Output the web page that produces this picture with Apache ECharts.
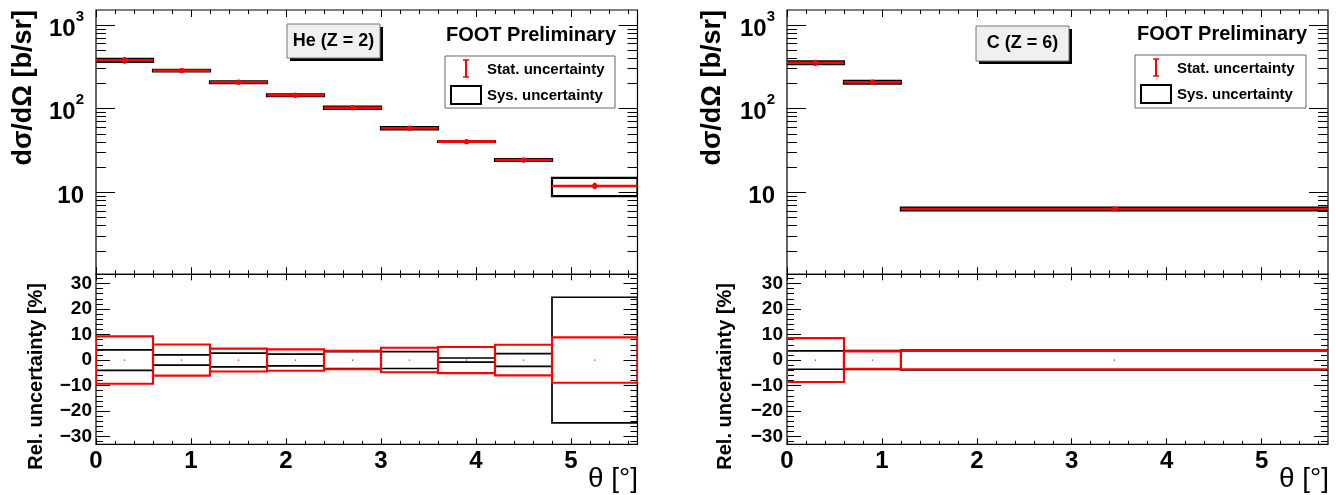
<!DOCTYPE html>
<html>
<head>
<meta charset="utf-8">
<script src="https://cdn.jsdelivr.net/npm/echarts@6/dist/echarts.min.js"></script>
<style>
html,body{margin:0;padding:0;background:#fff;}
#chart{width:1336px;height:495px;}
</style>
</head>
<body>
<div id="chart"></div>
<script>
// ---------------- data ----------------
const heBinLow  = [0.0, 0.6, 1.2, 1.8, 2.4, 3.0, 3.6, 4.2, 4.8];
const heBinHigh = [0.6, 1.2, 1.8, 2.4, 3.0, 3.6, 4.2, 4.8, 5.7];
const heXsec    = [378, 285, 207, 144.5, 102.6, 58.2, 40.3, 24.3, 11.9];   // b/sr
const heStatPct = [9.3, 6.1, 4.5, 4.2, 3.6, 4.8, 5.1, 6.0, 8.9];        // %
const heSysPct  = [4.0, 2.0, 2.7, 2.3, 3.3, 3.3, 0.8, 2.5, 24.6];       // %

const cBinLow   = [0.0, 0.6, 1.2];
const cBinHigh  = [0.6, 1.2, 5.7];
const cXsec     = [354, 207, 6.31];
const cStatPct  = [8.6, 3.4, 3.6];
const cSysPct   = [3.6, 3.7, 3.9];

const thetaMajor = [0, 1, 2, 3, 4, 5];
const thetaMinor = [0.2, 0.4, 0.6, 0.8, 1.2, 1.4, 1.6, 1.8, 2.2, 2.4, 2.6, 2.8,
                    3.2, 3.4, 3.6, 3.8, 4.2, 4.4, 4.6, 4.8, 5.2, 5.4, 5.6];
const xsecMajor  = [10, 100, 1000];
const xsecMinor  = [2, 3, 4, 5, 6, 7, 8, 9, 20, 30, 40, 50, 60, 70, 80, 90,
                    200, 300, 400, 500, 600, 700, 800, 900];
const relMajor   = [-30, -20, -10, 0, 10, 20, 30];
const relMinor   = [-32, -28, -26, -24, -22, -18, -16, -14, -12, -8, -6, -4, -2,
                    2, 4, 6, 8, 12, 14, 16, 18, 22, 24, 26, 28, 32];

const thetaRange = [0, 5.7];
const xsecRange  = [1.046, 1510];
const relRange   = [-33, 33.6];

// ---------------- layout helpers ----------------
const FONT = 'Liberation Sans';
const grids = [
  {left: 96,  top: 10,    width: 541.5, height: 264.3},
  {left: 96,  top: 274.3, width: 541.5, height: 170},
  {left: 787, top: 10,    width: 541,   height: 264.3},
  {left: 787, top: 274.3, width: 541,   height: 170}
].map(g => Object.assign(g, {show: true, borderColor: '#000', borderWidth: 1.2,
                              backgroundColor: 'transparent', outerBoundsMode: 'none'}));

const xAxes = [], yAxes = [];
function tickAxis(base, vals, len, labels) {
  return Object.assign({
    axisLine: {show: false, onZero: false},
    axisTick: {show: true, inside: true, length: len, customValues: vals,
               lineStyle: {color: '#000', width: 1}},
    axisLabel: labels ? labels : {show: false},
    splitLine: {show: false},
    minorTick: {show: false}
  }, base);
}
function buildAxes(gi, isTop) {
  const xMajLen = isTop ? 7 : 6, xMinLen = isTop ? 4 : 3.5;
  const xLbl = isTop ? null : {
    show: true, customValues: thetaMajor, margin: 5,
    fontFamily: FONT, fontWeight: 'bold', fontSize: 24, color: '#000'
  };
  const xBase = {type: 'value', gridIndex: gi, min: thetaRange[0], max: thetaRange[1]};
  const xi = xAxes.length;
  xAxes.push(tickAxis(Object.assign({position: 'bottom'}, xBase), thetaMajor, xMajLen, xLbl));
  xAxes.push(tickAxis(Object.assign({position: 'bottom'}, xBase), thetaMinor, xMinLen));
  xAxes.push(tickAxis(Object.assign({position: 'top'}, xBase), thetaMajor, xMajLen));
  xAxes.push(tickAxis(Object.assign({position: 'top'}, xBase), thetaMinor, xMinLen));

  const yi = yAxes.length;
  if (isTop) {
    const yBase = {type: 'log', logBase: 10, gridIndex: gi, min: xsecRange[0], max: xsecRange[1]};
    const yLbl = {
      show: true, customValues: xsecMajor, margin: 12,
      formatter: v => {
        const e = Math.round(Math.log10(v));
        return e === 1 ? '{b|10}' : '{b|10}{s|' + e + '}';
      },
      rich: {
        b: {fontFamily: FONT, fontWeight: 'bold', fontSize: 24, color: '#000', padding: [8, 0, 0, 0]},
        s: {fontFamily: FONT, fontWeight: 'bold', fontSize: 15, color: '#000', verticalAlign: 'top'}
      }
    };
    yAxes.push(tickAxis(Object.assign({position: 'left'}, yBase), xsecMajor, 19, yLbl));
    yAxes.push(tickAxis(Object.assign({position: 'left'}, yBase), xsecMinor, 10));
    yAxes.push(tickAxis(Object.assign({position: 'right'}, yBase), xsecMajor, 19));
    yAxes.push(tickAxis(Object.assign({position: 'right'}, yBase), xsecMinor, 10));
  } else {
    const yBase = {type: 'value', gridIndex: gi, min: relRange[0], max: relRange[1]};
    const yLbl = {
      show: true, customValues: relMajor, margin: 4,
      formatter: v => (v < 0 ? '\u2212' + Math.abs(v) : String(v)),
      fontFamily: FONT, fontWeight: 'bold', fontSize: 19, color: '#000'
    };
    yAxes.push(tickAxis(Object.assign({position: 'left'}, yBase), relMajor, 14, yLbl));
    yAxes.push(tickAxis(Object.assign({position: 'left'}, yBase), relMinor, 7));
    yAxes.push(tickAxis(Object.assign({position: 'right'}, yBase), relMajor, 14));
    yAxes.push(tickAxis(Object.assign({position: 'right'}, yBase), relMinor, 7));
  }
  return {xi, yi};
}

const axHeTop = buildAxes(0, true);
const axHeBot = buildAxes(1, false);
const axCTop  = buildAxes(2, true);
const axCBot  = buildAxes(3, false);

function rows(lo, hi, val, st, sy) {
  return lo.map((l, i) => [l, hi[i], val[i], st[i], sy[i]]);
}

function renderTop(params, api) {
  const xlo = api.value(0), xhi = api.value(1), v = api.value(2);
  const st = api.value(3) / 100, sy = api.value(4) / 100;
  const xc = (xlo + xhi) / 2;
  const a = api.coord([xlo, v * (1 + sy)]), b = api.coord([xhi, v * (1 - sy)]);
  const pl = api.coord([xlo, v]), pr = api.coord([xhi, v]);
  const s1 = api.coord([xc, v * (1 + st)]), s2 = api.coord([xc, v * (1 - st)]);
  const c = api.coord([xc, v]);
  return {type: 'group', children: [
    {type: 'rect', shape: {x: a[0], y: a[1], width: b[0] - a[0], height: b[1] - a[1]},
     style: {fill: 'none', stroke: '#000', lineWidth: 2.2}},
    {type: 'line', shape: {x1: pl[0], y1: pl[1], x2: pr[0], y2: pr[1]},
     style: {stroke: '#ff0000', lineWidth: 2.6}},
    {type: 'line', shape: {x1: s1[0], y1: s1[1], x2: s2[0], y2: s2[1]},
     style: {stroke: '#ff0000', lineWidth: 2.8}},
    {type: 'circle', shape: {cx: c[0], cy: c[1], r: 2.7}, style: {fill: '#ff0000'}}
  ]};
}
function renderBot(params, api) {
  const xlo = api.value(0), xhi = api.value(1);
  const st = api.value(3), sy = api.value(4);
  const xc = (xlo + xhi) / 2;
  const a = api.coord([xlo, sy]), b = api.coord([xhi, -sy]);
  const c1 = api.coord([xlo, st]), c2 = api.coord([xhi, -st]);
  const c = api.coord([xc, 0]);
  return {type: 'group', children: [
    {type: 'rect', shape: {x: a[0], y: a[1], width: b[0] - a[0], height: b[1] - a[1]},
     style: {fill: 'none', stroke: '#000', lineWidth: 1.7}},
    {type: 'rect', shape: {x: c1[0], y: c1[1], width: c2[0] - c1[0], height: c2[1] - c1[1]},
     style: {fill: 'none', stroke: '#ff0000', lineWidth: 2.1}},
    {type: 'rect', shape: {x: c[0] - 0.6, y: c[1] - 0.6, width: 1.2, height: 1.2},
     style: {fill: '#cc2222'}}
  ]};
}
function customSeries(ax, data, fn, yDim) {
  return {type: 'custom', xAxisIndex: ax.xi, yAxisIndex: ax.yi, renderItem: fn,
          data: data, encode: {x: [0, 1], y: yDim}, silent: true, animation: false, clip: true};
}

// ---------------- annotations ----------------
function labelBox(x, y, w, h, text) {
  return [
    {type: 'rect', shape: {x: x + 3, y: y + 3, width: w, height: h}, style: {fill: '#000'}},
    {type: 'rect', shape: {x: x, y: y, width: w, height: h},
     style: {fill: '#f0f0f0', stroke: '#777', lineWidth: 1}},
    {type: 'text', x: x + w / 2, y: y + h / 2,
     style: {text: text, fill: '#000', font: 'bold 18px "Liberation Sans"',
             textAlign: 'center', textVerticalAlign: 'middle'}}
  ];
}
function legendBlock(x0, y0, w, h) {
  const ix = x0 + 21;
  return [
    {type: 'text', x: x0 + w + 1, y: y0 - 21,
     style: {text: 'FOOT Preliminary', fill: '#000', font: 'bold 20px "Liberation Sans"',
             textAlign: 'right', textVerticalAlign: 'middle'}},
    {type: 'rect', shape: {x: x0, y: y0, width: w, height: h},
     style: {fill: '#fff', stroke: '#666', lineWidth: 1}},
    {type: 'line', shape: {x1: ix, y1: y0 + 4, x2: ix, y2: y0 + 21}, style: {stroke: '#ff0000', lineWidth: 2}},
    {type: 'line', shape: {x1: ix - 3, y1: y0 + 4, x2: ix + 3, y2: y0 + 4}, style: {stroke: '#ff0000', lineWidth: 1.5}},
    {type: 'line', shape: {x1: ix - 3, y1: y0 + 21, x2: ix + 3, y2: y0 + 21}, style: {stroke: '#ff0000', lineWidth: 1.5}},
    {type: 'text', x: x0 + 42, y: y0 + 14,
     style: {text: 'Stat. uncertainty', fill: '#000', font: 'bold 15px "Liberation Sans"',
             textAlign: 'left', textVerticalAlign: 'middle'}},
    {type: 'rect', shape: {x: x0 + 6, y: y0 + 30, width: 30, height: 18},
     style: {fill: 'none', stroke: '#000', lineWidth: 2}},
    {type: 'text', x: x0 + 42, y: y0 + 40,
     style: {text: 'Sys. uncertainty', fill: '#000', font: 'bold 15px "Liberation Sans"',
             textAlign: 'left', textVerticalAlign: 'middle'}}
  ];
}
function yTitle(x, y, text, size) {
  return {type: 'text', x: x, y: y, rotation: Math.PI / 2,
          style: {text: text, fill: '#000', font: 'bold ' + size + 'px "Liberation Sans"',
                  textAlign: 'right', textVerticalAlign: 'middle'}};
}
function xTitle(x, y) {
  return {type: 'text', x: x, y: y,
          style: {text: 'θ [°]', fill: '#000', font: '28px "Liberation Sans"',
                  textAlign: 'right', textVerticalAlign: 'middle'}};
}

const graphics = [].concat(
  labelBox(287, 24, 93, 34, 'He (Z = 2)'),
  labelBox(976, 26, 93, 35, 'C (Z = 6)'),
  legendBlock(445, 56, 170, 52),
  legendBlock(1135, 55, 171, 53),
  [yTitle(24, 10, 'dσ/dΩ [b/sr]', 27), yTitle(713, 10, 'dσ/dΩ [b/sr]', 27),
   yTitle(36, 283, 'Rel. uncertainty [%]', 20), yTitle(725, 283, 'Rel. uncertainty [%]', 20),
   xTitle(638, 479), xTitle(1329, 479)]
);

const chart = echarts.init(document.getElementById('chart'), null, {renderer: 'canvas'});
chart.setOption({
  animation: false,
  backgroundColor: '#fff',
  grid: grids,
  xAxis: xAxes,
  yAxis: yAxes,
  series: [
    customSeries(axHeTop, rows(heBinLow, heBinHigh, heXsec, heStatPct, heSysPct), renderTop, 2),
    customSeries(axHeBot, rows(heBinLow, heBinHigh, heXsec, heStatPct, heSysPct), renderBot, [3, 4]),
    customSeries(axCTop,  rows(cBinLow, cBinHigh, cXsec, cStatPct, cSysPct), renderTop, 2),
    customSeries(axCBot,  rows(cBinLow, cBinHigh, cXsec, cStatPct, cSysPct), renderBot, [3, 4])
  ],
  graphic: graphics
});
</script>
</body>
</html>
